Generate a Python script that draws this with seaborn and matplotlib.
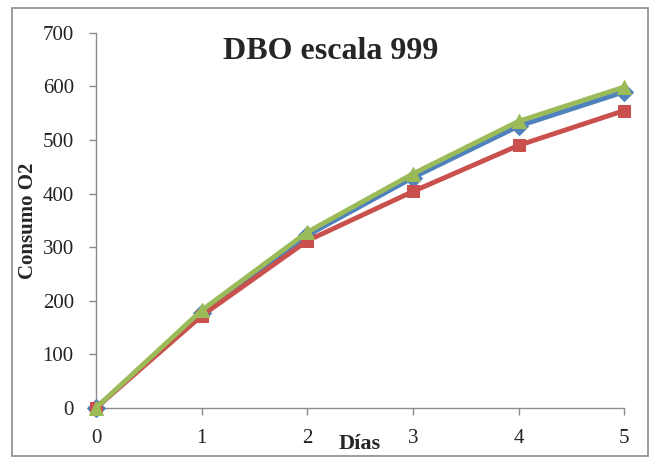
import matplotlib
matplotlib.use("Agg")
import matplotlib.pyplot as plt
import seaborn as sns
import pandas as pd
from matplotlib.patches import Rectangle

dias = [0, 1, 2, 3, 4, 5]
serie_azul = [0, 177, 322, 430, 526, 590]
serie_roja = [0, 172, 312, 404, 490, 555]
serie_verde = [0, 182, 328, 437, 535, 599]
y_ticks = [0, 100, 200, 300, 400, 500, 600, 700]

sns.set_style("white")
plt.rcParams['font.family'] = ['Liberation Serif', 'DejaVu Serif']

fig = plt.figure(figsize=(6.53, 4.63), dpi=100)
ax = fig.add_axes([0.147, 0.119, 0.809, 0.81])

fig.patches.append(Rectangle((0.018, 0.015), 0.975, 0.968, transform=fig.transFigure,
                             fill=False, edgecolor='#8c8c8c', linewidth=1.2))

series = [(serie_azul, '#4F81BD', 'D', 9), (serie_roja, '#C9504D', 's', 9), (serie_verde, '#9BBB59', '^', 10)]
for vals, col, mk, ms in series:
    df = pd.DataFrame({'x': dias, 'y': vals})
    sns.lineplot(data=df, x='x', y='y', ax=ax, color=col, linewidth=3.5, marker=mk,
                 markersize=ms, markeredgecolor=col, clip_on=False, zorder=3)

ax.set_xlim(0, 5)
ax.set_ylim(0, 700)
ax.set_xticks(dias)
ax.set_yticks(y_ticks)
ax.tick_params(axis='both', labelsize=15, colors='#222222', direction='out', length=5,
               width=1, bottom=True, left=True, color='#8c8c8c')
ax.tick_params(axis='x', pad=10)
ax.tick_params(axis='y', pad=11)
for s in ['top', 'right']:
    ax.spines[s].set_visible(False)
for s in ['left', 'bottom']:
    ax.spines[s].set_color('#8c8c8c')
    ax.spines[s].set_linewidth(1)

ax.set_xlabel('Días', fontsize=16, fontweight='bold', labelpad=-10)
ax.set_ylabel('Consumo O2', fontsize=15, fontweight='bold', labelpad=3)
ax.text(0.445, 0.95, 'DBO escala 999', transform=ax.transAxes, ha='center', va='center',
        fontsize=23, fontweight='bold')

fig.savefig('out.png', dpi=100)
